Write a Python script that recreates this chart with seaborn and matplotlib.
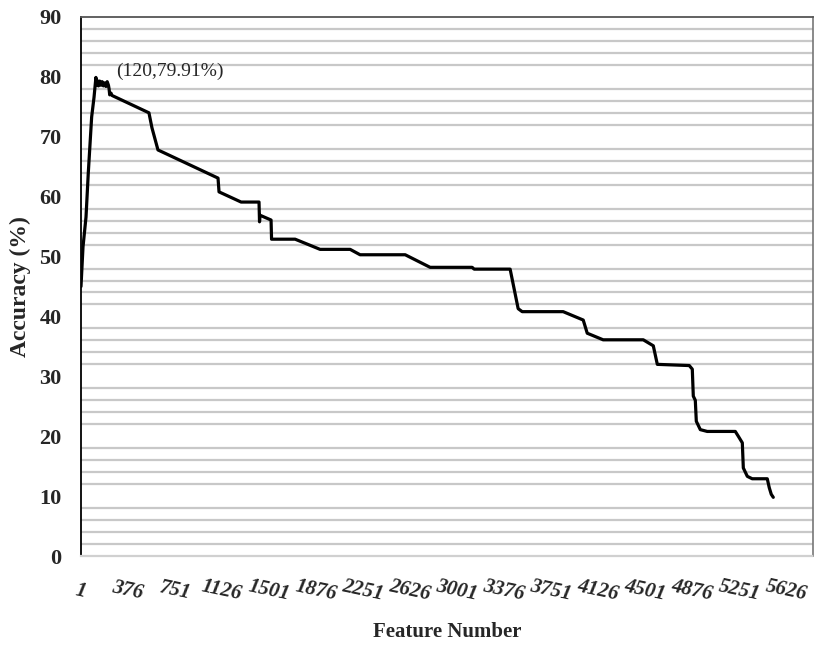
import numpy as np
import matplotlib
matplotlib.use('Agg')
import matplotlib.pyplot as plt
import seaborn as sns

# ─── Data ──────────────────────────────────────────────────────
feature_number = [
    1, 17, 41, 59, 86, 105, 120,
    125, 130, 140, 150, 160, 170, 180, 190, 200, 210, 220, 225, 230, 240,
    248, 543, 567, 615, 1094, 1102, 1278, 1421, 1425, 1429, 1517, 1521,
    1709, 1908, 2148, 2227, 2587, 2786, 3121, 3137, 3424, 3488, 3520,
    3847, 4007, 4039, 4166, 4486, 4566, 4598, 4853, 4877, 4885, 4901,
    4909, 4941, 4996, 5220, 5244, 5276, 5284, 5316, 5355, 5475, 5491,
    5507, 5523,
]
accuracy = [
    45.0, 51.6, 56.6, 63.9, 73.3, 76.6, 79.91,
    78.6, 79.4, 78.5, 79.3, 78.6, 79.2, 78.5, 79.0, 78.4, 79.2, 78.6, 78.0, 77.0, 77.3,
    76.9, 74.0, 71.5, 67.8, 63.1, 60.8, 59.1, 59.1, 55.8, 56.9, 56.1, 52.9,
    52.9, 51.2, 51.2, 50.3, 50.3, 48.2, 48.2, 47.9, 47.9, 41.3, 40.8,
    40.8, 39.4, 37.2, 36.1, 36.1, 35.1, 32.0, 31.8, 31.2, 26.7, 26.0,
    22.5, 21.1, 20.8, 20.8, 20.0, 18.9, 14.7, 13.3, 12.9, 12.9, 11.4,
    10.3, 9.8,
]
x_ticks = [1, 376, 751, 1126, 1501, 1876, 2251, 2626, 3001, 3376,
           3751, 4126, 4501, 4876, 5251, 5626]
y_ticks = [0, 10, 20, 30, 40, 50, 60, 70, 80, 90]
peak = (120, 79.91)

# ─── Style ─────────────────────────────────────────────────────
sns.set_style('white')
plt.rcParams['font.family'] = ['Liberation Serif', 'DejaVu Serif']

fig = plt.figure(figsize=(8.14, 6.46), dpi=100)
ax = fig.add_axes([0.0995, 0.1393, 0.8993, 0.8344])

# ─── Plot ──────────────────────────────────────────────────────
sns.lineplot(x=feature_number, y=accuracy, ax=ax, color='black',
             linewidth=2.3, estimator=None, sort=False)

ax.set_xlim(1, 5840)
ax.set_ylim(0, 90)

# horizontal gridlines every 2%
ax.set_yticks(np.arange(0, 91, 2), minor=True)
ax.grid(axis='y', which='minor', color='#c8c8c8', linewidth=1.6)
ax.set_axisbelow(True)

ax.set_yticks(y_ticks)
ax.set_yticklabels([str(v) for v in y_ticks], fontsize=16, fontweight='bold')
ax.set_xticks(x_ticks)
ax.set_xticklabels([str(v) for v in x_ticks], fontsize=15, fontweight='bold',
                   fontstyle='italic', rotation=-12, rotation_mode='anchor',
                   ha='center', va='center')
ax.tick_params(axis='y', which='both', length=0, pad=14)
ax.tick_params(axis='x', which='both', length=0, pad=25)

# frame
ax.spines['left'].set_color('black')
ax.spines['left'].set_linewidth(1.3)
ax.spines['top'].set_color('#555555')
ax.spines['top'].set_linewidth(1.3)
ax.spines['right'].set_color('#777777')
ax.spines['right'].set_linewidth(1.2)
ax.spines['bottom'].set_color('#d0d0d0')
ax.spines['bottom'].set_linewidth(1.6)
ax.spines['bottom'].set_linestyle((0, (2, 1)))

ax.set_xlabel('Feature Number', fontsize=15, fontweight='bold', labelpad=12)
ax.set_ylabel('Accuracy (%)', fontsize=17, fontweight='bold', labelpad=6)

ax.annotate('(120,79.91%)', xy=peak, xytext=(20, 6),
            textcoords='offset pixels', fontsize=14, ha='left', va='center')

fig.savefig('out.png', dpi=100)
